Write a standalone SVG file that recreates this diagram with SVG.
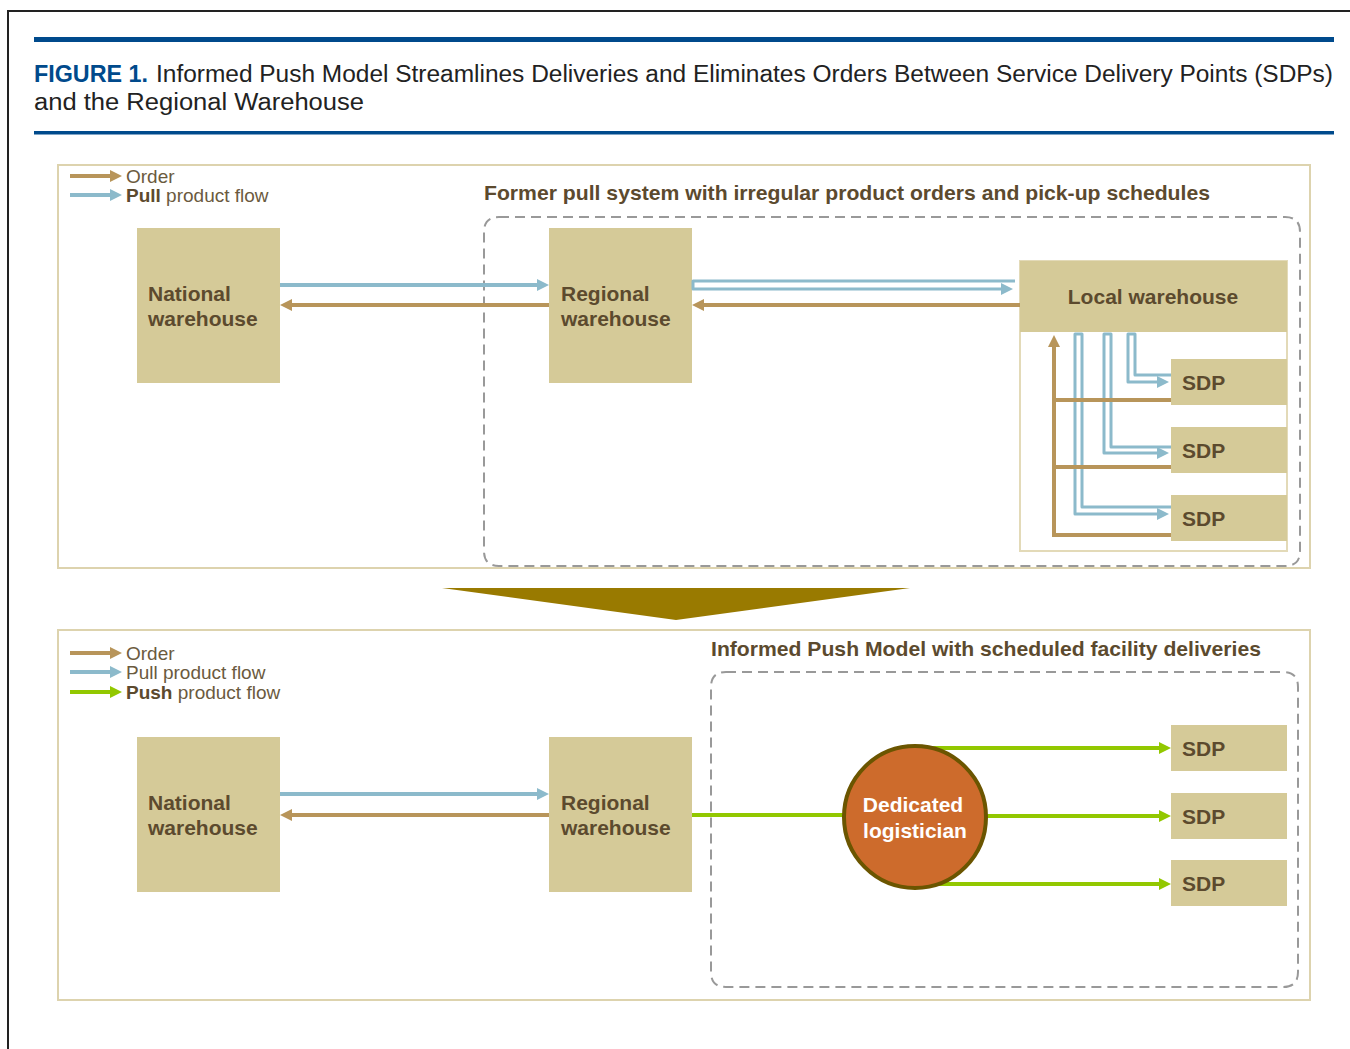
<svg xmlns="http://www.w3.org/2000/svg" width="1350" height="1049" viewBox="0 0 1350 1049">
<style>
.box{fill:#d5ca98}
.bt{font-family:"Liberation Sans",Arial,sans-serif;font-weight:bold;font-size:21px;fill:#5c4a2e}
.leg{font-family:"Liberation Sans",Arial,sans-serif;font-size:19px;fill:#6b5a3e}
.hd{font-family:"Liberation Sans",Arial,sans-serif;font-weight:bold;font-size:20.5px;fill:#5c4a2e}
.ttl{font-family:"Liberation Sans",Arial,sans-serif;font-size:23.5px;fill:#222}
.tan{stroke:#b8955a;stroke-width:4;fill:none}
.blue{stroke:#8cbacb;stroke-width:4;fill:none}
.blue3{stroke:#8cbacb;stroke-width:3;fill:none;stroke-linejoin:round}
.green{stroke:#92c800;stroke-width:4;fill:none}
.panel{fill:#fff;stroke:#ddd3ae;stroke-width:2}
.dash{fill:none;stroke:#999;stroke-width:2;stroke-dasharray:10,6}
</style>
<defs>
<marker id="at" viewBox="0 0 10 10" refX="0" refY="5" markerWidth="3" markerHeight="3.2" orient="auto" markerUnits="strokeWidth"><path d="M0,0 L10,5 L0,10 z" fill="#b8955a"/></marker>
<marker id="ab" viewBox="0 0 10 10" refX="0" refY="5" markerWidth="3" markerHeight="3.2" orient="auto" markerUnits="strokeWidth"><path d="M0,0 L10,5 L0,10 z" fill="#8cbacb"/></marker>
<marker id="ab3" viewBox="0 0 10 10" refX="0" refY="5" markerWidth="4" markerHeight="4.3" orient="auto" markerUnits="strokeWidth"><path d="M0,0 L10,5 L0,10 z" fill="#8cbacb"/></marker>
<marker id="ag" viewBox="0 0 10 10" refX="0" refY="5" markerWidth="3" markerHeight="3.2" orient="auto" markerUnits="strokeWidth"><path d="M0,0 L10,5 L0,10 z" fill="#92c800"/></marker>
</defs>
<rect width="1350" height="1049" fill="#fff"/>
<!-- frame -->
<path d="M8,1049 V11 H1350" fill="none" stroke="#222" stroke-width="2"/>
<rect x="34" y="37" width="1300" height="5" fill="#004a8c"/>
<rect x="34" y="131" width="1300" height="3.5" fill="#004a8c"/>
<g id="title">
<text class="ttl" x="34" y="82" style="fill:#004a8c" font-weight="bold" textLength="114" lengthAdjust="spacingAndGlyphs">FIGURE 1.</text>
<text class="ttl" x="156" y="82" textLength="1177" lengthAdjust="spacingAndGlyphs">Informed Push Model Streamlines Deliveries and Eliminates Orders Between Service Delivery Points (SDPs)</text>
<text class="ttl" x="34" y="110" textLength="330" lengthAdjust="spacingAndGlyphs">and the Regional Warehouse</text>
</g>

<!-- top panel -->
<g id="panel-top">
<rect class="panel" x="58" y="165" width="1252" height="403"/>
<path class="dash" d="M499,217 H1285 Q1300,217 1300,232 V551 Q1300,566 1285,566 H499 Q484,566 484,551 V232 Q484,217 499,217 Z"/>
<text class="hd" x="484" y="200" textLength="726" lengthAdjust="spacingAndGlyphs">Former pull system with irregular product orders and pick-up schedules</text>
</g>
<g id="legend-top">
<line class="tan" x1="70" y1="176" x2="110" y2="176" marker-end="url(#at)"/>
<line class="blue" x1="70" y1="195" x2="110" y2="195" marker-end="url(#ab)"/>
<text class="leg" x="126" y="183">Order</text>
<text class="leg" x="126" y="202"><tspan font-weight="bold" fill="#5c4a2e">Pull</tspan> product flow</text>
</g>
<g id="national-top"><rect class="box" x="137" y="228" width="143" height="155"/><text class="bt" x="148" y="301">National</text><text class="bt" x="148" y="326">warehouse</text></g>
<g id="regional-top"><rect class="box" x="549" y="228" width="143" height="155"/><text class="bt" x="561" y="301">Regional</text><text class="bt" x="561" y="326">warehouse</text></g>
<g id="local-top">
<rect x="1020" y="261" width="267" height="290" fill="#fff" stroke="#e3dab8" stroke-width="2"/>
<rect class="box" x="1020" y="261" width="267" height="71"/>
<text class="bt" x="1153" y="304" text-anchor="middle">Local warehouse</text>
</g>
<g id="sdp-t1"><rect class="box" x="1171" y="359" width="116" height="46"/><text class="bt" x="1182" y="390">SDP</text></g>
<g id="sdp-t2"><rect class="box" x="1171" y="427" width="116" height="46"/><text class="bt" x="1182" y="458">SDP</text></g>
<g id="sdp-t3"><rect class="box" x="1171" y="495" width="116" height="46"/><text class="bt" x="1182" y="526">SDP</text></g>

<!-- bottom panel -->
<polygon points="442,588 910,588 676,620" fill="#997a00"/>
<g id="panel-bottom">
<rect class="panel" x="58" y="630" width="1252" height="370"/>
<path class="dash" d="M726,672 H1283 Q1298,672 1298,687 V972 Q1298,987 1283,987 H726 Q711,987 711,972 V687 Q711,672 726,672 Z"/>
<text class="hd" x="711" y="656" textLength="550" lengthAdjust="spacingAndGlyphs">Informed Push Model with scheduled facility deliveries</text>
</g>
<g id="legend-bottom">
<line class="tan" x1="70" y1="653" x2="110" y2="653" marker-end="url(#at)"/>
<line class="blue" x1="70" y1="672" x2="110" y2="672" marker-end="url(#ab)"/>
<line class="green" x1="70" y1="692" x2="110" y2="692" marker-end="url(#ag)"/>
<text class="leg" x="126" y="660">Order</text>
<text class="leg" x="126" y="679">Pull product flow</text>
<text class="leg" x="126" y="699"><tspan font-weight="bold" fill="#5c4a2e">Push</tspan> product flow</text>
</g>
<g id="national-bottom"><rect class="box" x="137" y="737" width="143" height="155"/><text class="bt" x="148" y="810">National</text><text class="bt" x="148" y="835">warehouse</text></g>
<g id="regional-bottom"><rect class="box" x="549" y="737" width="143" height="155"/><text class="bt" x="561" y="810">Regional</text><text class="bt" x="561" y="835">warehouse</text></g>
<g id="sdp-b1"><rect class="box" x="1171" y="725" width="116" height="46"/><text class="bt" x="1182" y="756">SDP</text></g>
<g id="sdp-b2"><rect class="box" x="1171" y="793" width="116" height="46"/><text class="bt" x="1182" y="824">SDP</text></g>
<g id="sdp-b3"><rect class="box" x="1171" y="860" width="116" height="46"/><text class="bt" x="1182" y="891">SDP</text></g>

<g id="connectors">
<line class="blue" x1="280" y1="285" x2="537" y2="285" marker-end="url(#ab)"/>
<line class="tan" x1="549" y1="305" x2="292" y2="305" marker-end="url(#at)"/>
<path class="blue3" d="M1015,281 H693 V289 H1001" marker-end="url(#ab3)"/>
<line class="tan" x1="1020" y1="305" x2="704" y2="305" marker-end="url(#at)"/>
<path class="blue3" d="M1171,375 H1135 V334 H1128 V382 H1157" marker-end="url(#ab3)"/>
<path class="blue3" d="M1171,447 H1111 V334 H1104 V453 H1157" marker-end="url(#ab3)"/>
<path class="blue3" d="M1171,507 H1082 V334 H1075 V514 H1157" marker-end="url(#ab3)"/>
<path class="tan" d="M1171,535 H1054 V347" marker-end="url(#at)"/>
<line class="tan" x1="1054" y1="400" x2="1171" y2="400"/>
<line class="tan" x1="1054" y1="467" x2="1171" y2="467"/>
<line class="blue" x1="280" y1="794" x2="537" y2="794" marker-end="url(#ab)"/>
<line class="tan" x1="549" y1="815" x2="292" y2="815" marker-end="url(#at)"/>
<line class="green" x1="692" y1="815" x2="850" y2="815"/>
<line class="green" x1="915" y1="748" x2="1159" y2="748" marker-end="url(#ag)"/>
<line class="green" x1="985" y1="816" x2="1159" y2="816" marker-end="url(#ag)"/>
<line class="green" x1="915" y1="884" x2="1159" y2="884" marker-end="url(#ag)"/>
</g>
<g id="logistician">
<circle cx="915" cy="817" r="71" fill="#cd6b2c" stroke="#6b5500" stroke-width="4"/>
<text class="bt" x="913" y="812" text-anchor="middle" style="fill:#fff">Dedicated</text>
<text class="bt" x="915" y="838" text-anchor="middle" style="fill:#fff">logistician</text>
</g>
</svg>
